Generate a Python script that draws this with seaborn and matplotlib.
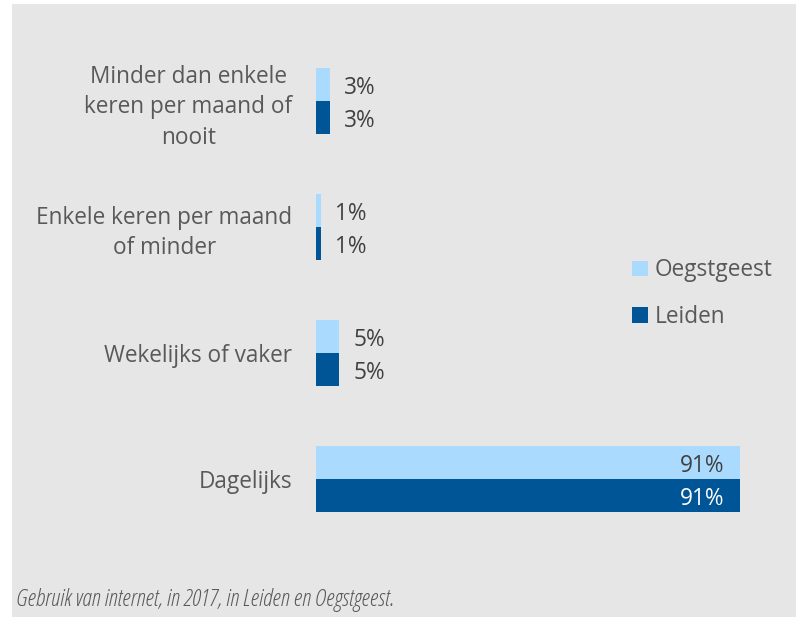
import matplotlib
matplotlib.use("Agg")
import matplotlib.pyplot as plt
import seaborn as sns
import pandas as pd

categories = ["Minder dan enkele\nkeren per maand of\nnooit",
              "Enkele keren per maand\nof minder",
              "Wekelijks of vaker",
              "Dagelijks"]
oegstgeest = [3, 1, 5, 91]
leiden = [3, 1, 5, 91]
series = ["Oegstgeest", "Leiden"]
caption = "Gebruik van internet, in 2017, in Leiden en Oegstgeest."

colors = {"Oegstgeest": "#abdaff", "Leiden": "#005597"}
BG = "#e6e6e6"
TXT = "#595959"
FONT = "Open Sans"

sns.set_theme(style="white")
plt.rcParams["font.family"] = [FONT, "DejaVu Sans"]

df = pd.DataFrame({
    "cat": categories * 2,
    "val": oegstgeest + leiden,
    "serie": [series[0]] * 4 + [series[1]] * 4,
})

W, H = 799, 619
fig = plt.figure(figsize=(W / 100, H / 100), dpi=100)
fig.patch.set_facecolor("white")

bgax = fig.add_axes([12 / W, 1 - 617 / H, (796 - 12) / W, (617 - 4) / H], zorder=-5)
bgax.set_facecolor(BG)
bgax.set_xticks([]); bgax.set_yticks([])
for s in bgax.spines.values():
    s.set_visible(False)

ax_left, ax_right = 316, 782
ax_top, ax_bot = 38, 542
ax = fig.add_axes([ax_left / W, 1 - ax_bot / H, (ax_right - ax_left) / W, (ax_bot - ax_top) / H])
ax.set_facecolor("none")

sns.barplot(data=df, y="cat", x="val", hue="serie", hue_order=series,
            order=categories, palette=colors, orient="h", width=0.524,
            saturation=1, ax=ax, legend=True, linewidth=0, edgecolor="none")

ax.set_xlim(0, 100)
ax.set_ylim(3.5, -0.5)
ax.set_xlabel("")
ax.set_ylabel("")
ax.set_xticks([])
for s in ax.spines.values():
    s.set_visible(False)
ax.tick_params(axis="y", length=0, pad=17, labelsize=16.3, labelcolor=TXT)
for t in ax.get_yticklabels():
    t.set_multialignment("center")
    t.set_linespacing(1.36)

DY = 0.025
for ci, container in enumerate(ax.containers):
    for bar, v in zip(container, [oegstgeest, leiden][ci]):
        yc = bar.get_y() + bar.get_height() / 2 + DY
        w = bar.get_width()
        if w > 50:
            ax.text(w - 3.3, yc, f"{v}%", ha="right", va="center", fontsize=16.3,
                    color="white" if ci == 1 else "#404040")
        else:
            ax.text(w + 3.0, yc, f"{v}%", ha="left", va="center", fontsize=16.3,
                    color="#404040")

handles, labels = ax.get_legend_handles_labels()
ax.legend(handles, labels, loc="upper left", bbox_to_anchor=(612 / W, 1 - 238 / H),
          bbox_transform=fig.transFigure, frameon=False, fontsize=16.3,
          handlelength=0.7, handleheight=0.7, handletextpad=0.3,
          labelspacing=1.0, labelcolor=TXT)

fig.text(16 / W, 1 - 600 / H, caption, ha="left", va="center", fontsize=17,
         style="italic", color=TXT, fontstretch="condensed")

fig.savefig("out.png", dpi=100, facecolor=fig.get_facecolor())
